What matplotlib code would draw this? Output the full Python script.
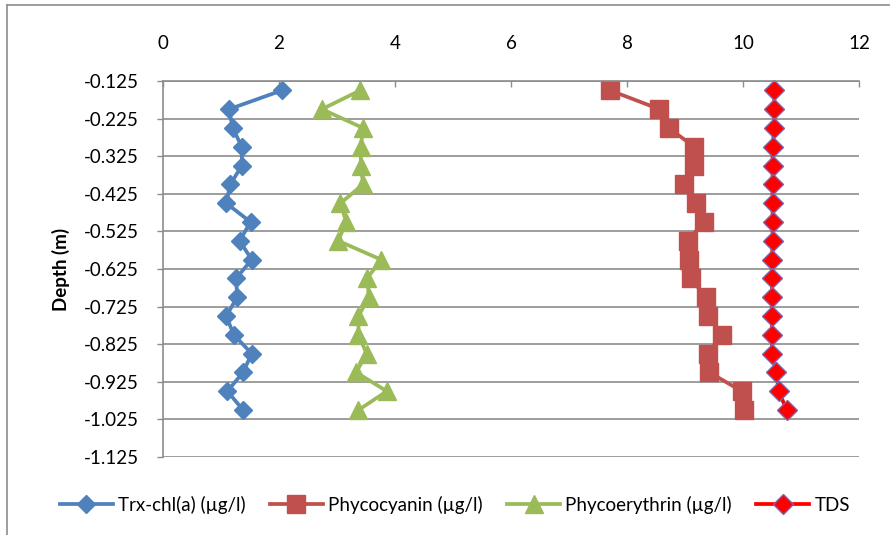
import matplotlib.pyplot as plt
from matplotlib.lines import Line2D
import numpy as np

plt.rcParams['font.family'] = ['Lato', 'DejaVu Sans']

depth = [-0.15, -0.20, -0.25, -0.30, -0.35, -0.40, -0.45, -0.50, -0.55,
         -0.60, -0.65, -0.70, -0.75, -0.80, -0.85, -0.90, -0.95, -1.00]
chl = [2.05, 1.14, 1.20, 1.36, 1.36, 1.16, 1.09, 1.51, 1.32,
       1.53, 1.26, 1.28, 1.09, 1.22, 1.53, 1.38, 1.11, 1.38]
phycocyanin = [7.71, 8.56, 8.72, 9.16, 9.16, 8.98, 9.19, 9.32, 9.05,
               9.07, 9.10, 9.36, 9.40, 9.63, 9.40, 9.42, 9.98, 10.01]
phycoerythrin = [3.40, 2.74, 3.45, 3.41, 3.41, 3.45, 3.06, 3.16, 3.02,
                 3.76, 3.52, 3.55, 3.37, 3.37, 3.51, 3.33, 3.86, 3.37]
tds = [10.54, 10.54, 10.54, 10.51, 10.51, 10.51, 10.51, 10.51, 10.51,
       10.50, 10.50, 10.50, 10.50, 10.50, 10.50, 10.57, 10.62, 10.75]

xticks = [0, 2, 4, 6, 8, 10, 12]
yticks = np.arange(-1.125, -0.1, 0.1)

grid_col = '#8c8c8c'

fig = plt.figure(figsize=(8.9, 5.35), dpi=100)
ax = fig.add_axes([163/890, 1 - 457/535, 696/890, 376/535])

ax.plot(chl, depth, '-D', color='#4F81BD', lw=2.7, ms=9.5, label='Trx-chl(a) (µg/l)', clip_on=False)
ax.plot(phycocyanin, depth, '-s', color='#C0504D', lw=2.7, ms=13, label='Phycocyanin (µg/l)', clip_on=False)
ax.plot(phycoerythrin, depth, '-^', color='#9BBB59', lw=2.7, ms=13, label='Phycoerythrin (µg/l)', clip_on=False)
ax.plot(tds, depth, '-D', color='#FF0000', lw=2.7, ms=10, mfc='#FF0000',
        mec='#7F65A8', mew=1.0, label='TDS', clip_on=False)

ax.set_xlim(0, 12)
ax.set_ylim(-1.125, -0.125)
ax.set_xticks(xticks)
ax.set_yticks(yticks)
ax.set_yticklabels(['%.3f' % v for v in yticks])

ax.xaxis.tick_top()
ax.tick_params(axis='x', direction='in', length=4, width=1, color=grid_col,
               pad=21, labelsize=13.5)
ax.tick_params(axis='y', direction='out', length=4.5, width=1, color=grid_col,
               pad=13, labelsize=13.5)

ax.grid(axis='y', color=grid_col, lw=1.2)
ax.set_axisbelow(True)
for side in ['right', 'bottom']:
    ax.spines[side].set_visible(False)
for side in ['left', 'top']:
    ax.spines[side].set_color(grid_col)
    ax.spines[side].set_linewidth(1.2)

ax.set_ylabel('Depth (m)', fontsize=13.5, fontweight='bold', labelpad=10)

ax.legend(loc='center', bbox_to_anchor=(455/890, 1 - 505/535),
          bbox_transform=fig.transFigure, ncol=4, frameon=False,
          fontsize=13.5, handlelength=2.8, handletextpad=0.3,
          columnspacing=1.3, borderaxespad=0)

# outer chart border
fig.add_artist(Line2D([7/890, 7/890], [0, 1 - 5/535], color='#8c8c8c', lw=1.2))
fig.add_artist(Line2D([7/890, 1], [1 - 5/535, 1 - 5/535], color='#8c8c8c', lw=1.2))

fig.savefig('out.png', dpi=100)
